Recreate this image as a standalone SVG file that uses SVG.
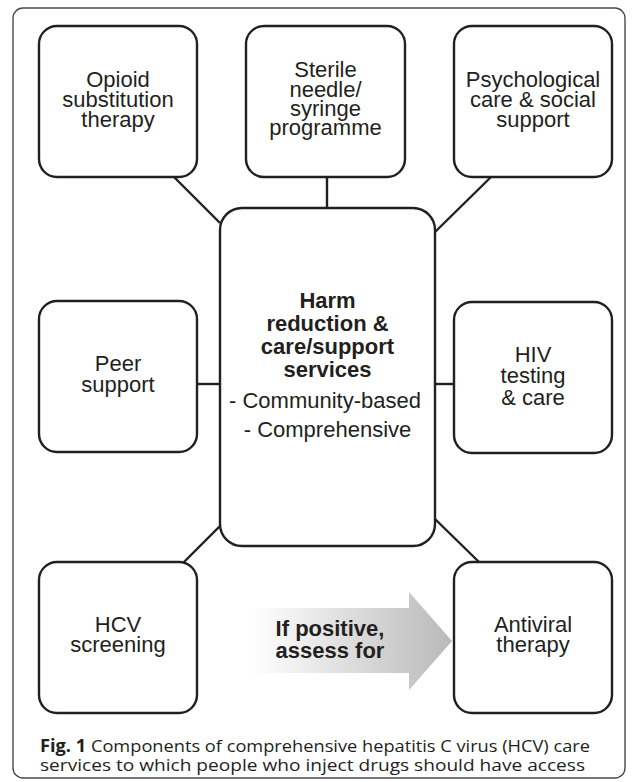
<svg xmlns="http://www.w3.org/2000/svg" width="633" height="782" viewBox="0 0 633 782">
<defs>
<style>
.box{fill:#fff;stroke:#231f20;stroke-width:2.4}
.con{fill:none;stroke:#231f20;stroke-width:2.4}
.t{font-family:"Liberation Sans",Arial,sans-serif;font-size:22px;fill:#231f20;text-anchor:middle}
.b{font-weight:bold}
.cap{font-family:"Open Sans","Liberation Sans",sans-serif;font-size:17px;fill:#231f20}
</style>
<linearGradient id="ag" x1="245" y1="0" x2="452" y2="0" gradientUnits="userSpaceOnUse">
<stop offset="0" stop-color="#ffffff"/>
<stop offset="0.15" stop-color="#f7f7f7"/>
<stop offset="1" stop-color="#b9b9b9"/>
</linearGradient>
</defs>
<rect x="13" y="8" width="612" height="770" rx="10" fill="#fff" stroke="#4a4a4a" stroke-width="1.4"/>
<g id="connectors">
<line class="con" x1="174" y1="177" x2="220" y2="223"/>
<line class="con" x1="327" y1="177" x2="327" y2="208"/>
<line class="con" x1="491" y1="177" x2="435" y2="232"/>
<line class="con" x1="197" y1="384" x2="220" y2="384"/>
<line class="con" x1="435" y1="384" x2="454" y2="384"/>
<line class="con" x1="220" y1="526" x2="184" y2="562"/>
<line class="con" x1="435" y1="519" x2="479" y2="562"/>
</g>
<g id="center">
<rect class="box" x="220" y="208" width="215" height="338" rx="22"/>
<text class="t b" x="327.5" y="308">Harm</text>
<text class="t b" x="327.5" y="331">reduction &amp;</text>
<text class="t b" x="327.5" y="354">care/support</text>
<text class="t b" x="327.5" y="377">services</text>
<text class="t" x="325" y="408">- Community-based</text>
<text class="t" x="327.5" y="437">- Comprehensive</text>
</g>
<g id="opioid">
<rect class="box" x="39" y="26" width="158" height="151" rx="18"/>
<text class="t" x="118" y="87">Opioid</text>
<text class="t" x="118" y="107">substitution</text>
<text class="t" x="118" y="127">therapy</text>
</g>
<g id="needle">
<rect class="box" x="246" y="26" width="159" height="151" rx="18"/>
<text class="t" x="325.5" y="77">Sterile</text>
<text class="t" x="325.5" y="97">needle/</text>
<text class="t" x="325.5" y="116">syringe</text>
<text class="t" x="325.5" y="135">programme</text>
</g>
<g id="psych">
<rect class="box" x="454" y="26" width="158" height="151" rx="18"/>
<text class="t" x="533" y="87">Psychological</text>
<text class="t" x="533" y="107">care &amp; social</text>
<text class="t" x="533" y="127">support</text>
</g>
<g id="peer">
<rect class="box" x="39" y="301" width="158" height="151" rx="18"/>
<text class="t" x="118" y="371">Peer</text>
<text class="t" x="118" y="392">support</text>
</g>
<g id="hiv">
<rect class="box" x="454" y="302" width="158" height="151" rx="18"/>
<text class="t" x="533" y="362">HIV</text>
<text class="t" x="533" y="383">testing</text>
<text class="t" x="533" y="405">&amp; care</text>
</g>
<g id="hcv">
<rect class="box" x="39" y="562" width="158" height="151" rx="18"/>
<text class="t" x="118" y="632">HCV</text>
<text class="t" x="118" y="652">screening</text>
</g>
<g id="antiviral">
<rect class="box" x="454" y="562" width="158" height="151" rx="18"/>
<text class="t" x="533" y="632">Antiviral</text>
<text class="t" x="533" y="652">therapy</text>
</g>
<g id="arrow">
<polygon points="240,608 409,608 409,592 452,641 409,690 409,673 240,673" fill="url(#ag)"/>
<text class="t b" x="330" y="636">If positive,</text>
<text class="t b" x="330" y="658">assess for</text>
</g>
<g id="caption">
<text class="cap" x="40" y="752" textLength="550" lengthAdjust="spacingAndGlyphs"><tspan font-weight="bold">Fig. 1</tspan> Components of comprehensive hepatitis C virus (HCV) care</text>
<text class="cap" x="40" y="771" textLength="545" lengthAdjust="spacingAndGlyphs">services to which people who inject drugs should have access</text>
</g>
</svg>
